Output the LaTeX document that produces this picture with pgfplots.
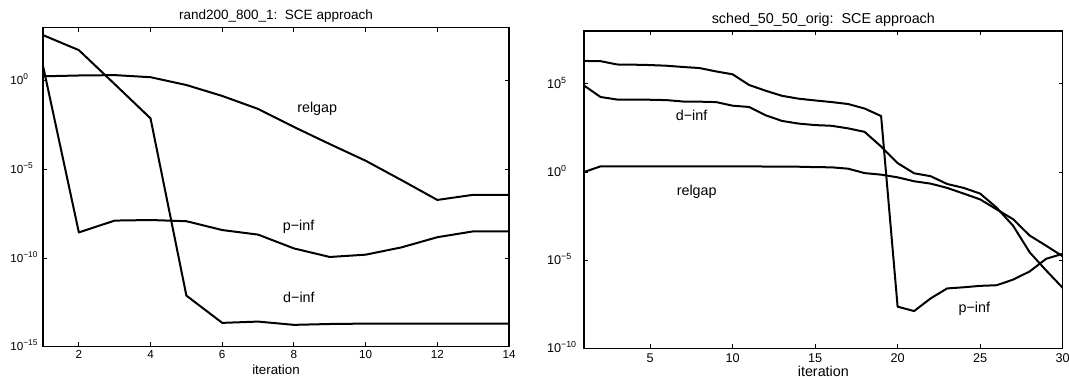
\documentclass[border=0pt]{standalone}
\usepackage{fontspec}
\setmainfont{Liberation Sans}
\usepackage{pgfplots}
\pgfplotsset{compat=1.18}

\tikzset{ml/.style={black, mark=none, line width=1.2pt, line join=round}}
\pgfplotsset{
  myml/.style={
    scale only axis,
    axis line style={line width=0.8pt, black},
    every tick/.style={black, line width=0.6pt},
    major tick length=2.5pt, tick align=inside,
    xtick pos=both, ytick pos=both,
    yminorticks=false, xminorticks=false,
    /pgf/number format/assume math mode=true,
    xticklabel style={anchor=base, inner sep=0pt},
    yticklabel style={anchor=base west, inner sep=0pt, yshift=-2.5pt},
    every axis x label/.style={at={(axis description cs:0.5,0)}, anchor=base, inner sep=0pt},
    every axis title/.style={at={(axis description cs:0.5,1)}, anchor=base, inner sep=0pt, yshift=4.6pt},
  }
}

\begin{document}
\begin{tikzpicture}
\useasboundingbox (0,0) rectangle (641.4pt,226.2pt);

\begin{axis}[ymode=log, myml, anchor=south west,
  at={(25.8pt,18.2pt)}, width=279.6pt, height=191.4pt,
  xmin=1, xmax=14, ymin=1e-15, ymax=1e3,
  xtick={2,4,6,8,10,12,14},
  ytick={1e-15,1e-10,1e-5,1},
  yticklabels={10\textsuperscript{−15},10\textsuperscript{−10},10\textsuperscript{−5},10\textsuperscript{0}},
  ticklabel style={font=\fontsize{7}{8}\selectfont},
  xticklabel style={yshift=-7pt},
  yticklabel style={xshift=-19.8pt},
  xlabel={iteration}, xlabel style={yshift=-17pt, font=\fontsize{8}{9}\selectfont},
  title={rand200\_800\_1:\ \ SCE approach}, title style={font=\fontsize{8.1}{9}\selectfont},
]
% d-inf
\addplot[ml] coordinates {(1,3.8e2) (2,5.4e1) (3,6.5e-1) (4,7.6e-3) (5,7.6e-13) (6,2.2e-14) (7,2.6e-14) (8,1.7e-14) (9,1.9e-14) (10,2.0e-14) (11,2.0e-14) (12,2.0e-14) (13,2.0e-14) (14,2.0e-14)};
% relgap
\addplot[ml] coordinates {(1,1.8) (2,2.0) (3,2.1) (4,1.6) (5,0.58) (6,0.14) (7,2.6e-2) (8,2.5e-3) (9,2.7e-4) (10,3.1e-5) (11,2.5e-6) (12,1.9e-7) (13,3.7e-7) (14,3.7e-7)};
% p-inf
\addplot[ml] coordinates {(1,7.1) (2,2.8e-9) (3,1.3e-8) (4,1.4e-8) (5,1.2e-8) (6,3.8e-9) (7,2.1e-9) (8,3.5e-10) (9,1.15e-10) (10,1.55e-10) (11,4.0e-10) (12,1.5e-9) (13,3.2e-9) (14,3.2e-9)};
\node[font=\fontsize{8.6}{9}\selectfont, anchor=base] at (axis cs:8.65,1.7e-2) {relgap};
\node[font=\fontsize{8.6}{9}\selectfont, anchor=base] at (axis cs:8.13,3.8e-9) {p−inf};
\node[font=\fontsize{8.6}{9}\selectfont, anchor=base] at (axis cs:8.14,3.2e-13) {d−inf};
\end{axis}

\begin{axis}[ymode=log, myml, anchor=south west,
  at={(350.4pt,17.2pt)}, width=287.2pt, height=190.4pt,
  xmin=1, xmax=30, ymin=1e-10, ymax=1e8,
  xtick={5,10,15,20,25,30},
  ytick={1e-10,1e-5,1,1e5},
  yticklabels={10\textsuperscript{−10},10\textsuperscript{−5},10\textsuperscript{0},10\textsuperscript{5}},
  ticklabel style={font=\fontsize{7.6}{8}\selectfont},
  xticklabel style={yshift=-8.6pt},
  yticklabel style={xshift=-22.4pt},
  xlabel={iteration}, xlabel style={yshift=-16.7pt, font=\fontsize{8.6}{9}\selectfont},
  title={sched\_50\_50\_orig:\ \ SCE approach}, title style={font=\fontsize{8.6}{9}\selectfont},
]
% p-inf
\addplot[ml] coordinates {(1,2.0e6) (2,1.95e6) (3,1.26e6) (4,1.23e6) (5,1.17e6) (6,1.07e6) (7,9.1e5) (8,7.9e5) (9,5.1e5) (10,3.5e5) (11,8.7e4) (12,4.1e4) (13,2.1e4) (14,1.45e4) (15,1.15e4) (16,9.3e3) (17,7.2e3) (18,4.0e3) (19,1.5e3) (20,2.3e-8) (21,1.3e-8) (22,6.8e-8) (23,2.5e-7) (24,2.9e-7) (25,3.5e-7) (26,3.8e-7) (27,7.9e-7) (28,2.3e-6) (29,1.2e-5) (30,2.3e-5)};
% d-inf
\addplot[ml] coordinates {(1,8.1e4) (2,1.8e4) (3,1.3e4) (4,1.26e4) (5,1.26e4) (6,1.2e4) (7,1.0e4) (8,9.8e3) (9,9.3e3) (10,5.8e3) (11,4.9e3) (12,1.66e3) (13,7.9e2) (14,5.6e2) (15,4.6e2) (16,4.2e2) (17,3.0e2) (18,1.9e2) (19,2.8e1) (20,3.2) (21,0.85) (22,0.58) (23,0.21) (24,0.126) (25,6.0e-2) (26,9.5e-3) (27,8.9e-4) (28,2.8e-5) (29,2.6e-6) (30,2.7e-7)};
% relgap
\addplot[ml] coordinates {(1,1.0) (2,2.1) (3,2.1) (4,2.1) (5,2.1) (6,2.1) (7,2.1) (8,2.1) (9,2.1) (10,2.1) (11,2.1) (12,2.05) (13,2.0) (14,2.0) (15,1.9) (16,1.85) (17,1.55) (18,0.87) (19,0.71) (20,0.50) (21,0.30) (22,0.22) (23,0.126) (24,6.0e-2) (25,2.8e-2) (26,7.6e-3) (27,2.1e-3) (28,2.5e-4) (29,6.6e-5) (30,1.66e-5)};
\node[font=\fontsize{8.6}{9}\selectfont, anchor=base] at (axis cs:7.52,7.9e2) {d−inf};
\node[font=\fontsize{8.6}{9}\selectfont, anchor=base] at (axis cs:7.83,4.7e-2) {relgap};
\node[font=\fontsize{8.6}{9}\selectfont, anchor=base] at (axis cs:24.65,1.1e-8) {p−inf};
\end{axis}
\end{tikzpicture}
\end{document}
